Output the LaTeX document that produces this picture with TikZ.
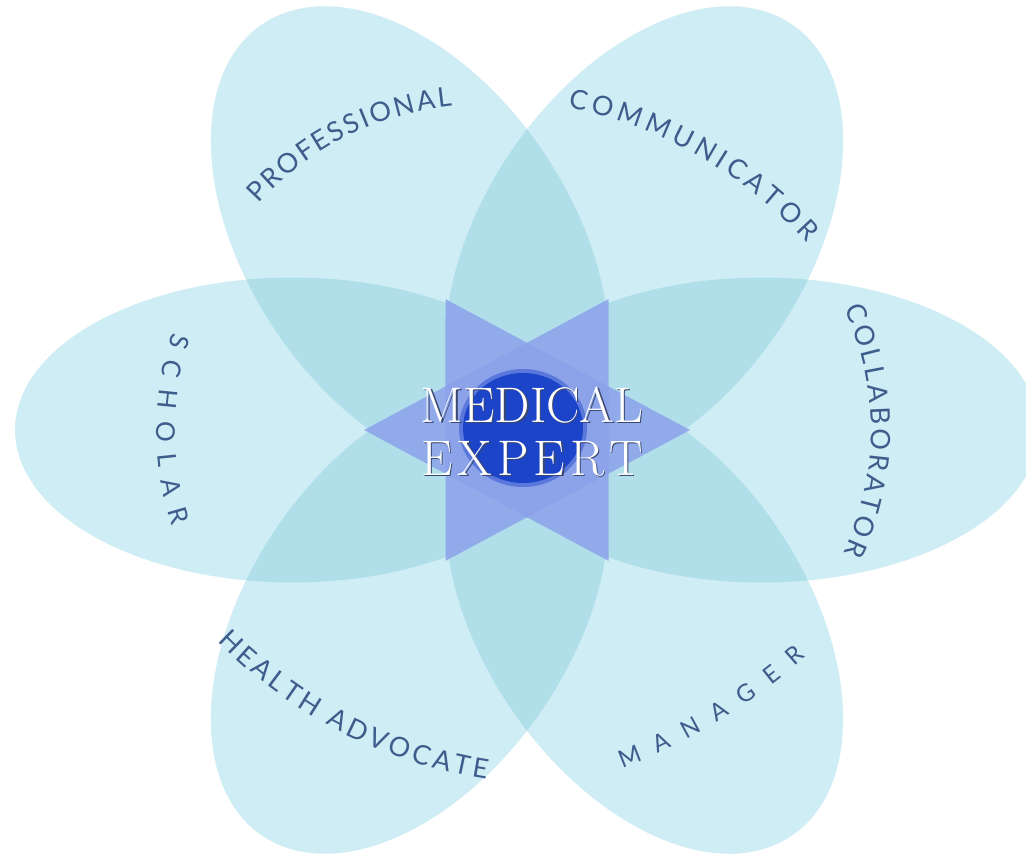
\documentclass[tikz,border=0pt]{standalone}
\usepackage{fontspec}
\newfontfamily\labfont{Lato}
\usetikzlibrary{decorations.text}
\definecolor{petal}{HTML}{CFEDF4}
\definecolor{ovl}{HTML}{B0DFEA}
\definecolor{star}{HTML}{8CA3EA}
\definecolor{core}{HTML}{1C44C8}
\definecolor{lab}{HTML}{3E5C8C}
\definecolor{shad}{HTML}{3A4870}
% teardrop petal: pointed inner tip, rounded outer end (local coordinates)
\def\petalshape{(-163,0) -- (41.2,117.9) arc[start angle=134.2, end angle=-134.2, x radius=277.4, y radius=164.5] -- cycle}
\newcommand\pinter[3]{%
 \begin{scope}[rotate=#1]
  \clip \petalshape;
  \begin{scope}[rotate={#2-#1}]
   \fill[#3] \petalshape;
  \end{scope}
 \end{scope}}
\tikzset{
  lbl/.style={decorate, decoration={text along path, text align={fit to path},
      text={|\labfont\fontsize{#1}{#1}\selectfont\color{lab}|\lbltext}}},
  ctext/.style={anchor=base, inner sep=0pt, font=\fontsize{50}{50}\selectfont}
}
\begin{document}
\begin{tikzpicture}[x=1pt,y=1pt]
\useasboundingbox (0,0) rectangle (1026,-855);
\fill[white] (0,0) rectangle (1026,-855);
\begin{scope}[shift={(527,-430)}, yscale=0.927]
 \foreach \a in {0,60,...,300} {\fill[petal,rotate=\a] \petalshape;}
 \foreach \a/\b in {0/60,0/120,0/240,0/300,60/120,60/180,60/300,120/180,120/240,180/240,180/300,240/300} {\pinter{\a}{\b}{ovl}}
 \foreach \a/\b in {0/180,60/240,120/300} {\pinter{\a}{\b}{star,fill opacity=0.85}}
\end{scope}
\fill[core!45!star] (523,-428) ellipse [x radius=64, y radius=59];
\fill[core] (523,-428) ellipse [x radius=60, y radius=55];
% centre text
\node[ctext, text=shad] (medsh) at (533.5,-423.5) {MEDICAL};
\node[ctext, text=white] (med) at (532,-422) {MEDICAL};
\node[ctext, text=shad] (expsh) at (533.5,-476.5) {E\kern5pt X\kern5pt P\kern5pt E\kern5pt R\kern5pt T};
\node[ctext, text=white] (exp) at (532,-475) {E\kern5pt X\kern5pt P\kern5pt E\kern5pt R\kern5pt T};
% labels
\def\lbltext{PROFESSIONAL}
\path[lbl=27] (481,-405) ++(137.9:300) arc[start angle=137.9, end angle=95.5, radius=300];
\def\lbltext{COMMUNICATOR}
\path[lbl=27] (485,-534) ++(79:434) arc[start angle=79, end angle=42.2, radius=434];
\def\lbltext{COLLABORATOR}
\path[lbl=27] (580,-430) ++(24.7:291) arc[start angle=24.7, end angle=-24.9, radius=291];
\def\lbltext{SCHOLAR}
\path[lbl=26] (475,-430) ++(162.2:318) arc[start angle=162.2, end angle=197.6, radius=318];
\def\lbltext{HEALTH ADVOCATE}
\path[lbl=27] (560,-305) ++(224.5:480) arc[start angle=224.5, end angle=261.2, radius=480];
\def\lbltext{MANAGER}
\path[lbl=24] (420,-230) ++(-69.4:575) arc[start angle=-69.4, end angle=-47.9, radius=575];
\end{tikzpicture}
\end{document}
